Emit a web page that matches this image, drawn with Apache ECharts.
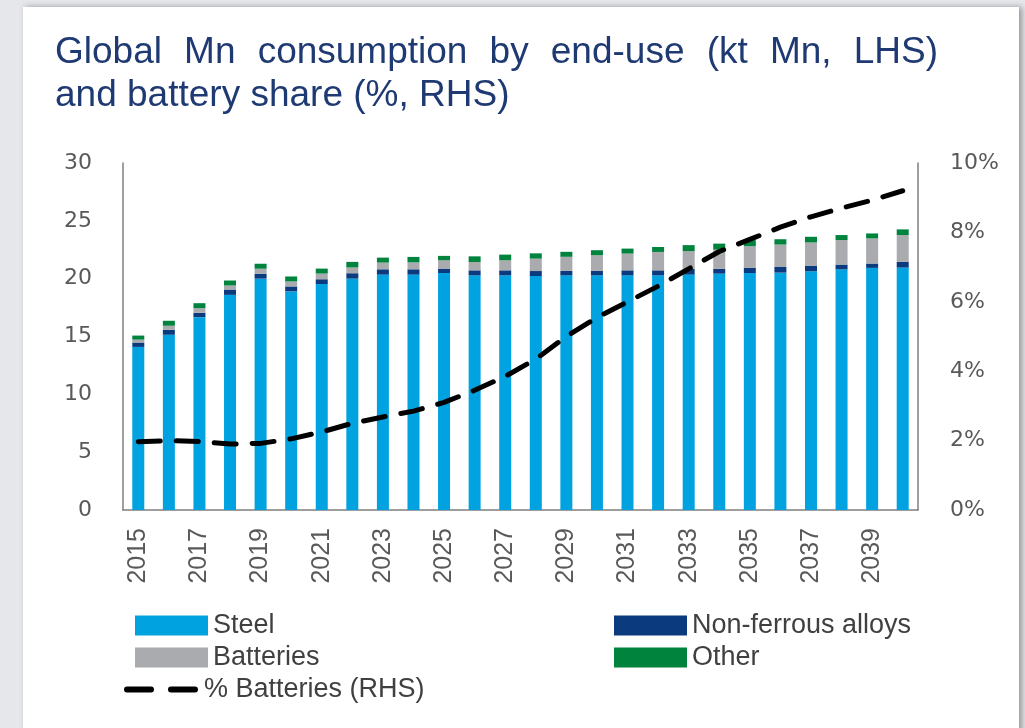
<!DOCTYPE html>
<html>
<head>
<meta charset="utf-8">
<script src="https://cdn.jsdelivr.net/npm/echarts@6/dist/echarts.min.js"></script>
<style>
html, body { margin: 0; padding: 0; background: #e6e7eb; }
#main { width: 1025px; height: 728px; }
</style>
</head>
<body>
<div id="main"></div>
<script>
// data (kt Mn and % battery share)
var years = ['2015','2016','2017','2018','2019','2020','2021','2022','2023','2024','2025','2026','2027',
  '2028','2029','2030','2031','2032','2033','2034','2035','2036','2037','2038','2039','2040'];
var steel = [14.1, 15.15, 16.67, 18.6, 20.0, 18.9, 19.54, 20.0, 20.35, 20.35, 20.49, 20.29, 20.29,
  20.23, 20.29, 20.29, 20.29, 20.29, 20.35, 20.43, 20.49, 20.52, 20.64, 20.81, 20.93, 20.96];
var nonFerrous = [0.38, 0.43, 0.38, 0.46, 0.43, 0.43, 0.41, 0.47, 0.46, 0.46, 0.38, 0.43, 0.43,
  0.43, 0.38, 0.38, 0.43, 0.43, 0.5, 0.43, 0.46, 0.49, 0.46, 0.41, 0.38, 0.49];
var batteries = [0.25, 0.35, 0.4, 0.35, 0.43, 0.43, 0.49, 0.5, 0.58, 0.6, 0.72, 0.72, 0.87,
  1.07, 1.22, 1.36, 1.45, 1.59, 1.53, 1.65, 1.86, 1.94, 2.03, 2.12, 2.17, 2.32];
var other = [0.35, 0.43, 0.43, 0.43, 0.43, 0.43, 0.43, 0.48, 0.43, 0.47, 0.38, 0.49, 0.49,
  0.46, 0.43, 0.43, 0.43, 0.43, 0.52, 0.52, 0.52, 0.46, 0.49, 0.43, 0.43, 0.49];
var batteryShare = [1.97, 2.0, 1.97, 1.9, 1.92, 2.05, 2.25, 2.5, 2.68, 2.85, 3.1, 3.45, 3.85,
  4.35, 5.0, 5.55, 6.0, 6.45, 6.95, 7.45, 7.8, 8.15, 8.45, 8.7, 8.93, 9.2];

var titleLine1 = 'Global Mn consumption by end-use (kt Mn, LHS)';
var titleLine2 = 'and battery share (%, RHS)';

var myChart = echarts.init(document.getElementById('main'));

// title line 1 is justified in the original, spread words over the width
var titleFamily = '"Liberation Sans", Arial, sans-serif';
var titleSize = 37;
var ctx = document.createElement('canvas').getContext('2d');
ctx.font = titleSize + 'px ' + titleFamily;
var words = titleLine1.split(' ');
var used = 0;
words.forEach(function (w) { used += ctx.measureText(w).width; });
var gap = (938 - 55 - used) / (words.length - 1);
var titleEls = [];
var tx = 55;
words.forEach(function (w) {
  titleEls.push({
    type: 'text', x: tx, y: 53,
    style: { text: w, fontSize: titleSize, fontFamily: titleFamily, fill: '#1f3a73', verticalAlign: 'middle' }
  });
  tx += ctx.measureText(w).width + gap;
});
titleEls.push({
  type: 'text', x: 55, y: 96,
  style: { text: titleLine2, fontSize: titleSize, fontFamily: titleFamily, fill: '#1f3a73', verticalAlign: 'middle' }
});

var legendFont = { fontSize: 27, color: '#404040', fontFamily: '"Liberation Sans", sans-serif' };
function legendAt(name, left, top, extra) {
  var l = {
    data: [name], left: left, top: top, padding: 0, selectedMode: false,
    itemWidth: 73, itemHeight: 20, icon: 'rect', textStyle: legendFont
  };
  for (var k in extra) l[k] = extra[k];
  return l;
}

var option = {
  backgroundColor: '#e6e7eb',
  animation: false,
  graphic: [
    {
      type: 'rect', z: -10, shape: { x: 23, y: 7, width: 996, height: 740 },
      style: { fill: '#ffffff', shadowBlur: 6, shadowOffsetX: 3, shadowColor: 'rgba(0,0,0,0.35)' }
    }
  ].concat(titleEls),
  legend: [
    legendAt('Steel', 135, 612),
    legendAt('Non-ferrous alloys', 614, 612),
    legendAt('Batteries', 135, 644),
    legendAt('Other', 614, 644),
    legendAt('% Batteries (RHS)', 124, 676, {
      icon: null, itemWidth: 72, itemStyle: { opacity: 0 },
      lineStyle: { color: '#000000', width: 6, type: [24, 20], cap: 'round' }
    })
  ],
  grid: { left: 123, right: 107, top: 163, bottom: 218 },
  xAxis: {
    type: 'category',
    data: years,
    axisLine: { lineStyle: { color: '#7f7f7f', width: 1.5 } },
    axisTick: { show: false },
    axisLabel: {
      interval: 1, rotate: 90, margin: 18, color: '#595959', fontSize: 25,
      fontFamily: '"Liberation Sans", sans-serif'
    }
  },
  yAxis: [
    {
      type: 'value', min: 0, max: 30, interval: 5,
      axisLine: { show: true, lineStyle: { color: '#7f7f7f', width: 1.5 } },
      axisTick: { show: false },
      splitLine: { show: false },
      axisLabel: { margin: 31, color: '#595959', fontSize: 22, fontFamily: '"DejaVu Sans", sans-serif' }
    },
    {
      type: 'value', min: 0, max: 10, interval: 2,
      axisLine: { show: true, lineStyle: { color: '#7f7f7f', width: 1.5 } },
      axisTick: { show: false },
      splitLine: { show: false },
      axisLabel: { margin: 32, formatter: '{value}%', color: '#595959', fontSize: 22, fontFamily: '"DejaVu Sans", sans-serif' }
    }
  ],
  series: [
    { name: 'Steel', type: 'bar', stack: 'mn', barWidth: 12, data: steel, itemStyle: { color: '#00a3e0' } },
    { name: 'Non-ferrous alloys', type: 'bar', stack: 'mn', data: nonFerrous, itemStyle: { color: '#0c3a7e' } },
    { name: 'Batteries', type: 'bar', stack: 'mn', data: batteries, itemStyle: { color: '#a9abae' } },
    { name: 'Other', type: 'bar', stack: 'mn', data: other, itemStyle: { color: '#00843d' } },
    {
      name: '% Batteries (RHS)', type: 'line', yAxisIndex: 1, data: batteryShare,
      symbol: 'none', z: 5,
      lineStyle: { color: '#000000', width: 5, type: [22, 16], cap: 'round' }
    }
  ]
};
myChart.setOption(option, true);
</script>
</body>
</html>
